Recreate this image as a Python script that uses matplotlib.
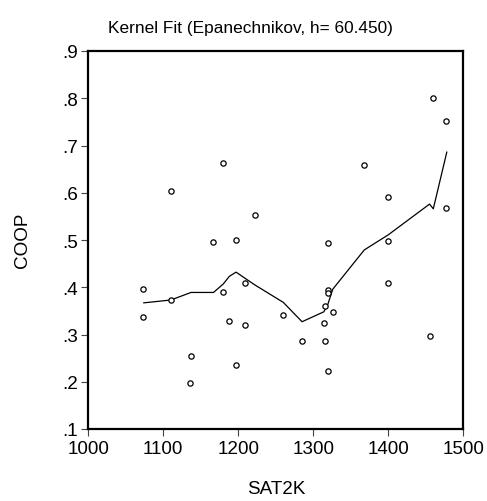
import matplotlib
matplotlib.use("Agg")
import matplotlib.pyplot as plt

plt.rcParams["font.family"] = ["Liberation Sans", "DejaVu Sans"]

# observed data (SAT2K, COOP)
sat2k = [1073, 1073, 1110, 1110, 1137, 1135, 1166, 1180, 1180, 1188,
         1196.5, 1196.5, 1209, 1209, 1222, 1260, 1285, 1314, 1316, 1316,
         1320, 1320, 1320, 1320, 1326, 1368, 1400, 1400, 1400, 1455,
         1460, 1476.5, 1476.5]
coop = [0.396, 0.336, 0.372, 0.603, 0.254, 0.197, 0.495, 0.664, 0.391, 0.329,
        0.501, 0.235, 0.408, 0.321, 0.552, 0.342, 0.286, 0.325, 0.361, 0.286,
        0.494, 0.395, 0.387, 0.223, 0.347, 0.659, 0.592, 0.498, 0.409, 0.297,
        0.800, 0.751, 0.568]

# kernel fit curve
fit_x = [1074, 1110, 1137, 1167, 1180, 1188, 1197, 1209, 1222, 1260,
         1285, 1314, 1319, 1326, 1368, 1400, 1455, 1460, 1478]
fit_y = [0.367, 0.373, 0.389, 0.389, 0.407, 0.423, 0.432, 0.419, 0.405, 0.368,
         0.327, 0.348, 0.362, 0.396, 0.479, 0.511, 0.576, 0.566, 0.686]

xticks = [1000, 1100, 1200, 1300, 1400, 1500]
yticks = [0.1, 0.2, 0.3, 0.4, 0.5, 0.6, 0.7, 0.8, 0.9]
ytick_labels = [".1", ".2", ".3", ".4", ".5", ".6", ".7", ".8", ".9"]

W, H = 487, 502
fig = plt.figure(figsize=(W / 100, H / 100), dpi=100)
ax = fig.add_axes([88.3 / W, 1 - 430 / H, 375 / W, 378 / H])

ax.plot(sat2k, coop, "o", ms=3.8, mfc="white", mec="black", mew=0.9, zorder=3)
ax.plot(fit_x, fit_y, color="black", lw=0.9, zorder=2)

ax.set_xlim(1000, 1500)
ax.set_ylim(0.1, 0.9)
ax.set_xticks(xticks)
ax.set_xticklabels([str(v) for v in xticks])
ax.set_yticks(yticks)
ax.set_yticklabels(ytick_labels)

for s in ax.spines.values():
    s.set_linewidth(1.6)
ax.tick_params(axis="both", direction="out", length=5.2, width=0.8,
               labelsize=13.6, color="#444444")
ax.tick_params(axis="x", pad=3)
ax.tick_params(axis="y", pad=2)

fig.text(250 / W, 1 - 33.3 / H, "Kernel Fit (Epanechnikov, h= 60.450)",
         ha="center", va="baseline", fontsize=12.4)
fig.text(276.5 / W, 1 - 490 / H, "SAT2K", ha="center", va="center", fontsize=13.6)
fig.text(22.5 / W, 1 - 240.5 / H, "COOP", ha="center", va="center",
         rotation=90, fontsize=13.6)

fig.savefig("out.png", dpi=100)
plt.close(fig)
